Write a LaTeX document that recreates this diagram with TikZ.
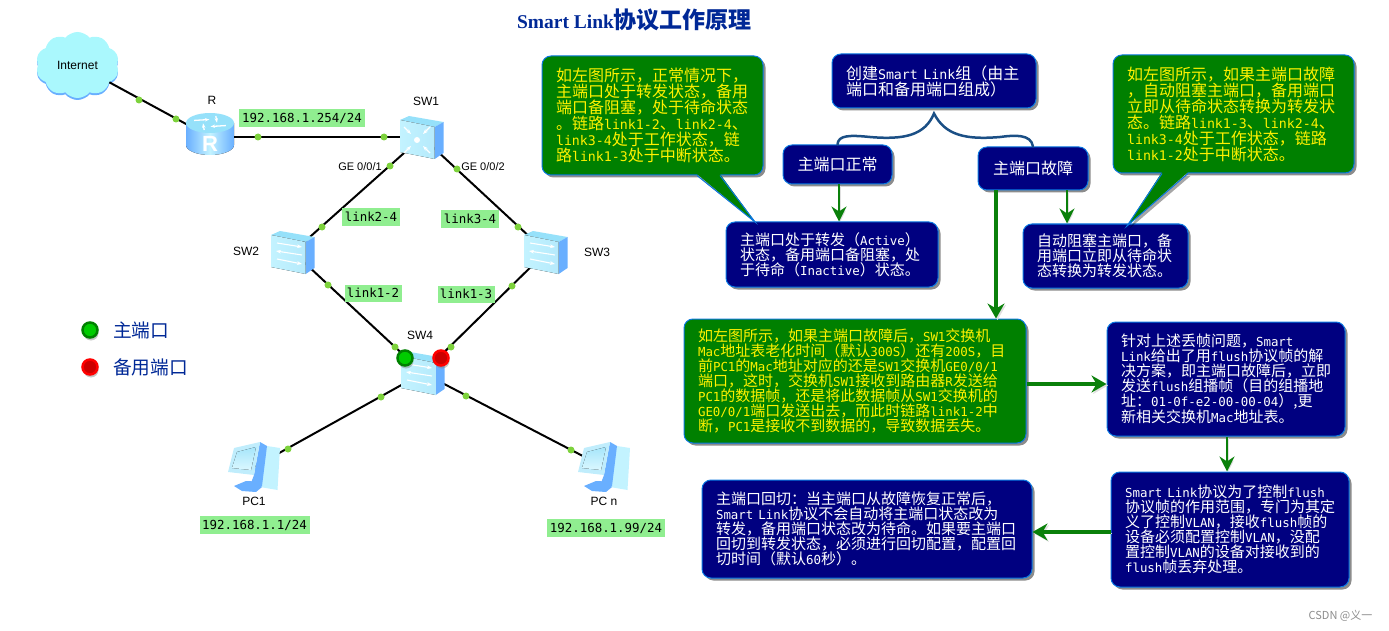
\documentclass[tikz,border=0pt]{standalone}
\usepackage{fontspec}
\setmainfont{Liberation Sans}
\newfontfamily\cjk{Noto Sans CJK SC}
\newfontfamily\titlefont{Liberation Serif}
\newfontfamily\monoL[Scale=0.83]{DejaVu Sans Mono}
\newcommand{\la}[1]{{\monoL #1}}
\usetikzlibrary{arrows.meta, positioning, shapes.symbols, shadows, calc}
\definecolor{navyFill}{RGB}{0, 0, 128}
\definecolor{boxEdge}{RGB}{10, 120, 225}
\definecolor{greenFill}{RGB}{0, 128, 0}
\definecolor{linkGreen}{RGB}{144, 238, 144}
\definecolor{dotGreen}{RGB}{125, 210, 60}
\definecolor{arrowGreen}{RGB}{10, 128, 10}
\definecolor{braceBlue}{RGB}{27, 79, 133}
\definecolor{titleBlue}{RGB}{0, 40, 150}
\definecolor{iconTop}{RGB}{150, 225, 250}
\definecolor{iconLight}{RGB}{195, 243, 255}
\definecolor{iconSide}{RGB}{105, 175, 255}
\definecolor{cloudFill}{RGB}{170, 248, 253}
\tikzset{
  routericon/.pic={
    \fill[left color=iconSide, right color=iconSide, middle color=iconLight]
      (-24,-14) -- (-24,8) arc[start angle=180, end angle=0, x radius=24, y radius=10]
      -- (24,-14) -- cycle;
    \fill[iconTop] (0,-14) ellipse[x radius=24, y radius=10];
    \foreach \a in {20,110,200,290}
      \draw[white, line width=1.3pt, -{Stealth[length=4.5pt]}]
        ({17*cos(\a)},{-14+7.5*sin(\a)}) -- ({7*cos(\a+65)},{-14+3.5*sin(\a+65)});
    \node[font=\bfseries\fontsize{22}{22}\selectfont, text=white] (Rglyph) at (0,7) {R};
  },
  cubeicon/.pic={
    \fill[iconTop] (-22,-17) -- (-13,-21) -- (21.5,-15) -- (12.7,-10) -- cycle;
    \fill[iconSide] (12.7,-10) -- (21.5,-15) -- (21.5,16) -- (12.7,22) -- cycle;
    \fill[left color=iconLight, right color=iconTop!70!white]
      (-22,-17) -- (12.7,-10) -- (12.7,22) -- (-22,15) -- cycle;
  },
  l2icon/.pic={
    \pic {cubeicon};
    \draw[white, line width=1.1pt, -{Stealth[length=5pt]}] (-16,-9) -- (9,-5);
    \draw[white, line width=1.1pt, -{Stealth[length=5pt]}] (9,3) -- (-17,-1);
    \draw[white, line width=1.1pt, -{Stealth[length=5pt]}] (-16,7) -- (9,12);
  },
  coreicon/.pic={
    \pic {cubeicon};
    \fill[white] (-5,3) circle[radius=3];
    \foreach \dx/\dy in {-1/-1, 1/-1, -1/1, 1/1}
      \draw[white, line width=1.4pt, -{Stealth[length=5pt]}]
        ({-5+13*\dx},{3+13*\dy}) -- ({-5+6*\dx},{3+6*\dy});
  },
  pcicon/.pic={
    \fill[iconLight] (13,-21) -- (26,-19) -- (23.5,23) -- (6,20) -- cycle;
    \fill[iconSide] (6,-25) -- (13,-21) -- (8,19) -- (0,24) -- (-3,16) -- (0,8) -- cycle;
    \fill[iconSide] (-20,19) -- (-8,14) -- (-3,14) -- (8,20) -- (2,25) -- (-12,24) -- cycle;
    \fill[iconTop!60!white] (-20,-19) -- (6,-25) -- (0,8) -- (-26,5) -- cycle;
    \fill[top color=iconTop!85!white, bottom color=iconLight!60!white]
      (-17,-15) -- (2,-20) -- (-3,3) -- (-22,1) -- cycle;
  }
}
\begin{document}
\begin{tikzpicture}[
    x=1pt, y=-1pt,
    device/.style={inner sep=0pt, minimum width=44pt, minimum height=42pt},
    iplabel/.style={font=\fontsize{12}{12}\selectfont},
    gelabel/.style={font=\fontsize{11}{11}\selectfont, inner sep=0pt},
    linkbox/.style={fill=linkGreen, inner sep=0pt, font=\fontsize{15}{15}\monoL, text=black},
    netlink/.style={line width=2pt, black},
    portdot/.style={circle, fill=dotGreen, inner sep=0pt, minimum size=7pt},
    mainport/.style={circle, draw=greenFill, line width=2.5pt, fill=green!80!black,
      inner sep=0pt, minimum size=15pt, drop shadow={shadow xshift=1pt, shadow yshift=-3pt, opacity=.45}},
    backport/.style={circle, draw=red, line width=2.5pt, fill=red!80!black,
      inner sep=0pt, minimum size=15pt, drop shadow={shadow xshift=1pt, shadow yshift=-3pt, opacity=.45}},
    legendtext/.style={font=\fontsize{18.7}{19}\cjk, text=titleBlue, inner sep=0pt},
    darkbox/.style={rectangle, draw=boxEdge, line width=1pt, rounded corners=9pt,
      inner sep=0pt, align=left,
      drop shadow={shadow xshift=2.5pt, shadow yshift=-2.5pt, fill=black, opacity=.45}},
    navybox/.style={darkbox, fill=navyFill, text=white, font=\fontsize{15}{15}\cjk},
    greenbox/.style={darkbox, fill=greenFill, text=yellow, font=\fontsize{15}{15}\cjk},
    bigfont/.style={font=\fontsize{16}{16}\cjk},
    boxsize/.style n args={2}{minimum width=#1pt, minimum height=#2pt, text width=#1pt-28pt},
    arrow/.style={-{Stealth[length=15pt, width=17pt, inset=5pt]}, arrowGreen, line width=3.2pt,
      preaction={draw=black!12, transform canvas={xshift=1.5pt, yshift=-1.5pt}}},
    thinarrow/.style={-{Stealth[length=15pt, width=15pt, inset=5pt]}, arrowGreen, line width=2.2pt,
      preaction={draw=black!12, transform canvas={xshift=1.5pt, yshift=-1.5pt}}},
    pointer/.style={fill=greenFill, draw=none},
    pointeredge/.style={draw=boxEdge, line width=1pt},
    brace/.style={draw=braceBlue, line width=2.5pt, line cap=round}
  ]
    \useasboundingbox (0,0) rectangle (1389,631);

    % Title
    \node[text=titleBlue, inner sep=0pt] (title) at (634.5,20)
      {\titlefont\bfseries\fontsize{19.5}{19.5}\selectfont Smart Link{\cjk\fontsize{23}{23}\selectfont 协议工作原理}};

    % Devices
    \node[cloud, cloud puffs=10, cloud puff arc=100, aspect=1.3, fill=cloudFill,
      inner sep=0pt, minimum width=83pt, minimum height=66pt,
      font=\fontsize{12}{12}\selectfont,
      preaction={fill=iconSide, transform canvas={yshift=-2pt}}] (internet) at (77.5,65) {Internet};
    \node[device] (R) at (210,137) {};
    \node[device] (SW1) at (422,137) {};
    \node[device] (SW2) at (293,252) {};
    \node[device] (SW3) at (546,252) {};
    \node[device] (SW4) at (423,373) {};
    \node[device] (PC1) at (254,467) {};
    \node[device] (PCn) at (604,467) {};

    % Links
    \draw[netlink] (internet) -- (R.center);
    \draw[netlink] (R.center) -- (SW1.center);
    \draw[netlink] (SW1.center) -- (SW2.center);
    \draw[netlink] (SW1.center) -- (SW3.center);
    \draw[netlink] (SW2.center) -- (SW4.center);
    \draw[netlink] (SW3.center) -- (SW4.center);
    \draw[netlink] (SW4.center) -- (PC1.center);
    \draw[netlink] (SW4.center) -- (PCn.center);

    % Link end dots
    \foreach \i/\p in {1/{139,100}, 2/{176,119}, 3/{258,137}, 4/{384,137}, 5/{390,166},
        6/{457,169}, 7/{322,227}, 8/{518,227}, 9/{328,285}, 10/{512,286},
        11/{395,347}, 12/{451,347}, 13/{381,397}, 14/{466,396}, 15/{288,449}, 16/{571,450}}
      \node[portdot] (dot\i) at (\p) {};

    % Device icons
    \pic at (R) {routericon};
    \pic at (SW1) {coreicon};
    \pic at (SW2) {l2icon};
    \pic at (SW3) {l2icon};
    \pic at (SW4) {l2icon};
    \pic at (PC1) {pcicon};
    \pic at (PCn) {pcicon};

    % Device names
    \node[iplabel] (nameR) at (212,100) {R};
    \node[iplabel] (nameSW1) at (426,101) {SW1};
    \node[iplabel] (nameSW2) at (246,251) {SW2};
    \node[iplabel] (nameSW3) at (597,252) {SW3};
    \node[iplabel] (nameSW4) at (420,335) {SW4};
    \node[iplabel] (namePC1) at (254,501) {PC1};
    \node[iplabel] (namePCn) at (604,501) {PC n};
    \node[gelabel] (port1) at (360,167) {GE 0/0/1};
    \node[gelabel] (port2) at (483,167) {GE 0/0/2};

    % Address and link tags
    \node[linkbox, minimum width=126pt, minimum height=18pt] (ipR) at (302,118) {192.168.1.254/24};
    \node[linkbox, minimum width=58pt, minimum height=18pt] (link24) at (371,217) {link2-4};
    \node[linkbox, minimum width=58pt, minimum height=17pt] (link34) at (470,219) {link3-4};
    \node[linkbox, minimum width=57pt, minimum height=17pt] (link12) at (373,293) {link1-2};
    \node[linkbox, minimum width=57pt, minimum height=17pt] (link13) at (466,294) {link1-3};
    \node[linkbox, minimum width=110pt, minimum height=18pt] (ipPC1) at (254.5,525) {192.168.1.1/24};
    \node[linkbox, minimum width=118pt, minimum height=18pt] (ipPCn) at (606,528) {192.168.1.99/24};

    % Ports on SW4 and legend
    \node[mainport] (portMain) at (405,358) {};
    \node[backport] (portBack) at (441,358) {};
    \node[mainport] (legendMain) at (90,330) {};
    \node[backport] (legendBack) at (90,367) {};
    \node[legendtext, anchor=west] (textMain) at (113,330) {主端口};
    \node[legendtext, anchor=west] (textBack) at (113,367) {备用端口};

    % Top group
    \node[navybox, bigfont, boxsize={204}{54}] (group) at (934,81)
      {创建\la{Smart Link}组（由主\\端口和备用端口组成）};
    \node[navybox, bigfont, align=center, boxsize={109}{39}] (okbox) at (837.5,164.5) {主端口正常};
    \node[navybox, bigfont, align=center, boxsize={110}{43}] (failbox) at (1033,168.5) {主端口故障};
    \draw[brace] (okbox.north) .. controls (838,135) and (850,135) .. (870,137)
      .. controls (905,140) and (925,135) .. ([yshift=-5pt]group.south)
      .. controls (945,135) and (965,140) .. (1000,137)
      .. controls (1015,135) and (1031,134) .. (failbox.north);

    % Results of the two states
    \node[navybox, boxsize={212}{65}] (activebox) at (832,254.5)
      {主端口处于转发（\la{Active}）\\状态，备用端口备阻塞，处\\于待命（\la{Inactive}）状态。};
    \node[navybox, boxsize={165}{64}] (autobox) at (1105.5,256)
      {自动阻塞主端口，备\\用端口立即从待命状\\态转换为转发状态。};

    % Green callouts
    \node[greenbox, bigfont, boxsize={221}{119}] (normalnote) at (652.5,115.5)
      {如左图所示，正常情况下，\\主端口处于转发状态，备用\\端口备阻塞，处于待命状态\\。链路\la{link1-2}、\la{link2-4}、\\\la{link3-4}处于工作状态，链\\路\la{link1-3}处于中断状态。};
    \coordinate (normaltip) at (755,222);
    \fill[black, opacity=.35, transform canvas={xshift=2.5pt, yshift=-2.5pt}]
      ([xshift=44.5pt]normalnote.south) -- (normaltip) -- ([xshift=67.5pt]normalnote.south) -- cycle;
    \fill[pointer] ([xshift=44.5pt, yshift=1.5pt]normalnote.south) -- (normaltip)
      -- ([xshift=67.5pt, yshift=1.5pt]normalnote.south) -- cycle;
    \draw[pointeredge] ([xshift=44.5pt]normalnote.south) -- (normaltip)
      -- ([xshift=67.5pt]normalnote.south);

    \node[greenbox, bigfont, boxsize={241}{118}] (failnote) at (1233.5,114)
      {如左图所示，如果主端口故障\\，自动阻塞主端口，备用端口\\立即从待命状态转换为转发状\\态。链路\la{link1-3}、\la{link2-4}、\\\la{link3-4}处于工作状态，链路\\\la{link1-2}处于中断状态。};
    \coordinate (failtip) at (1127,226);
    \fill[black, opacity=.35, transform canvas={xshift=2.5pt, yshift=-2.5pt}]
      ([xshift=-71.5pt]failnote.south) -- (failtip) -- ([xshift=-45.5pt]failnote.south) -- cycle;
    \fill[pointer] ([xshift=-71.5pt, yshift=1.5pt]failnote.south) -- (failtip)
      -- ([xshift=-45.5pt, yshift=1.5pt]failnote.south) -- cycle;
    \draw[pointeredge] ([xshift=-71.5pt]failnote.south) -- (failtip)
      -- ([xshift=-45.5pt]failnote.south);

    % Lower boxes
    \node[greenbox, boxsize={342}{124}] (lossnote) at (855,381)
      {如左图所示，如果主端口故障后，\la{SW1}交换机\\\la{Mac}地址表老化时间（默认\la{300S}）还有\la{200S}，目\\前\la{PC1}的\la{Mac}地址对应的还是\la{SW1}交换机\la{GE0/0/1}\\端口，这时，交换机\la{SW1}接收到路由器\la{R}发送给\\\la{PC1}的数据帧，还是将此数据帧从\la{SW1}交换机的\\\la{GE0/0/1}端口发送出去，而此时链路\la{link1-2}中\\断，\la{PC1}是接收不到数据的，导致数据丢失。};
    \node[navybox, boxsize={238}{114}] (flushbox) at (1226,379)
      {针对上述丢帧问题，\la{Smart}\\\la{Link}给出了用\la{flush}协议帧的解\\决方案，即主端口故障后，立即\\发送\la{flush}组播帧（目的组播地\\址：\la{01-0f-e2-00-00-04}）,更\\新相关交换机\la{Mac}地址表。};
    \node[navybox, boxsize={238}{115}] (vlanbox) at (1230,529.5)
      {\la{Smart Link}协议为了控制\la{flush}\\协议帧的作用范围，专门为其定\\义了控制\la{VLAN}，接收\la{flush}帧的\\设备必须配置控制\la{VLAN}，没配\\置控制\la{VLAN}的设备对接收到的\\\la{flush}帧丢弃处理。};
    \node[navybox, boxsize={330}{98}] (backbox) at (867,529)
      {主端口回切：当主端口从故障恢复正常后，\\\la{Smart Link}协议不会自动将主端口状态改为\\转发，备用端口状态改为待命。如果要主端口\\回切到转发状态，必须进行回切配置，配置回\\切时间（默认\la{60}秒）。};

    % Arrows
    \draw[thinarrow] ([xshift=1.5pt]okbox.south) -- ([xshift=1.5pt]okbox.south |- activebox.north);
    \draw[thinarrow] ([xshift=34pt]failbox.south) -- ([xshift=34pt]failbox.south |- autobox.north);
    \draw[arrow] ([xshift=-37pt]failbox.south) -- ([xshift=-37pt]failbox.south |- lossnote.north);
    \draw[arrow] (lossnote.east |- 0,384) -- (flushbox.west |- 0,384);
    \draw[thinarrow] ([xshift=1pt]flushbox.south) -- ([xshift=1pt]flushbox.south |- vlanbox.north);
    \draw[arrow] (vlanbox.west |- 0,532) -- (backbox.east |- 0,532);

    % Watermark
    \node[text=black!45, font=\fontsize{11}{11}\cjk, inner sep=0pt] (mark) at (1340.5,616) {CSDN @义一};
  \end{tikzpicture}
\end{document}
